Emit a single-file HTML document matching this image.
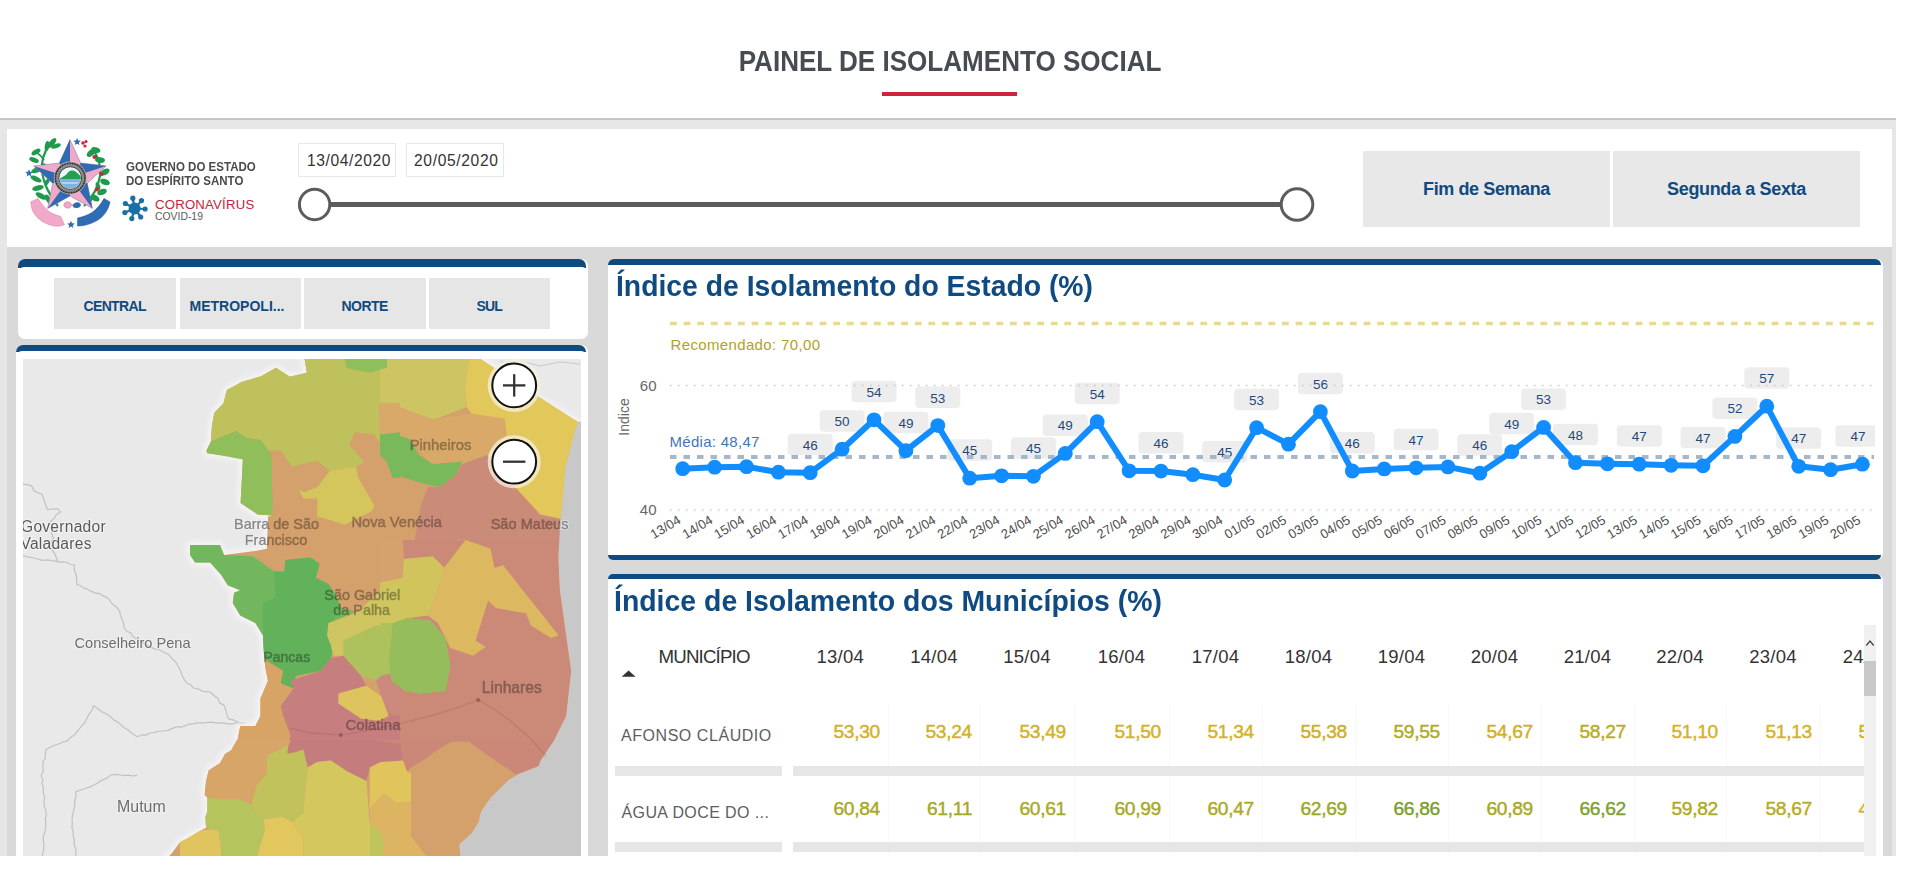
<!DOCTYPE html>
<html><head><meta charset="utf-8"><title>Painel de Isolamento Social</title>
<style>
html,body{margin:0;padding:0;background:#fff}
body{width:1914px;height:875px;position:relative;overflow:hidden;font-family:'Liberation Sans', sans-serif}
</style></head><body>
<div style="position:absolute;left:0;top:0;width:1914px;height:118px;background:#fff"></div>
<div style="position:absolute;left:700px;top:44px;width:500px;text-align:center;font:700 29px/34px 'Liberation Sans', sans-serif;color:#474c53;transform:scaleX(0.8985);transform-origin:250px 0;white-space:nowrap">PAINEL DE ISOLAMENTO SOCIAL</div>
<div style="position:absolute;left:882px;top:92px;width:135px;height:4px;background:#d2233c"></div>
<div style="position:absolute;left:0;top:118px;width:1896px;height:2px;background:#c6c6c6"></div>
<div style="position:absolute;left:0;top:120px;width:1896px;height:736px;background:#e6e6e6"></div>
<div style="position:absolute;left:7px;top:247px;width:1885px;height:609px;background:#d9d9d9"></div>
<div style="position:absolute;left:7px;top:129px;width:1885px;height:118px;background:#fff"></div>

<svg style="position:absolute;left:0;top:0" width="160" height="240" viewBox="0 0 160 240">
<path d="M58,206 C50,196 44,186 42,172 C41,162 44,152 50,144" fill="none" stroke="#1f9a4c" stroke-width="2.2"/>
<path d="M44,160 C40,154 36,152 33,151" fill="none" stroke="#1f9a4c" stroke-width="1.8"/>
<ellipse cx="52" cy="143" rx="6" ry="2.6" transform="rotate(-50 52 143)" fill="#1f9a4c"/>
<ellipse cx="56" cy="146" rx="5" ry="2.2" transform="rotate(-20 56 146)" fill="#1f9a4c"/>
<ellipse cx="47" cy="146" rx="5" ry="2.2" transform="rotate(-80 47 146)" fill="#1f9a4c"/>
<ellipse cx="36" cy="152" rx="5" ry="2.4" transform="rotate(-30 36 152)" fill="#1f9a4c"/>
<ellipse cx="34" cy="160" rx="5" ry="2.4" transform="rotate(20 34 160)" fill="#1f9a4c"/>
<ellipse cx="37" cy="170" rx="6" ry="2.6" transform="rotate(-20 37 170)" fill="#1f9a4c"/>
<ellipse cx="36" cy="179" rx="6" ry="2.6" transform="rotate(25 36 179)" fill="#1f9a4c"/>
<ellipse cx="38" cy="188" rx="6" ry="2.6" transform="rotate(-15 38 188)" fill="#1f9a4c"/>
<ellipse cx="41" cy="196" rx="6" ry="2.6" transform="rotate(30 41 196)" fill="#1f9a4c"/>
<ellipse cx="48" cy="199" rx="5" ry="2.4" transform="rotate(60 48 199)" fill="#1f9a4c"/>
<ellipse cx="45" cy="167" rx="4" ry="2" transform="rotate(70 45 167)" fill="#1f9a4c"/>
<ellipse cx="47" cy="182" rx="4" ry="2" transform="rotate(-60 47 182)" fill="#1f9a4c"/>
<path d="M84,206 C92,198 98,188 100,176 C101,166 98,156 92,148" fill="none" stroke="#1f9a4c" stroke-width="2.2"/>
<ellipse cx="91" cy="153" rx="5" ry="3" transform="rotate(-40 91 153)" fill="#1f9a4c"/>
<ellipse cx="96" cy="150" rx="4.5" ry="2.6" transform="rotate(20 96 150)" fill="#1f9a4c"/>
<ellipse cx="100" cy="160" rx="5" ry="2.8" transform="rotate(10 100 160)" fill="#1f9a4c"/>
<ellipse cx="105" cy="172" rx="5" ry="3" transform="rotate(-30 105 172)" fill="#1f9a4c"/>
<ellipse cx="105" cy="182" rx="5" ry="3" transform="rotate(20 105 182)" fill="#1f9a4c"/>
<ellipse cx="102" cy="192" rx="5" ry="3" transform="rotate(-20 102 192)" fill="#1f9a4c"/>
<ellipse cx="95" cy="198" rx="5" ry="3" transform="rotate(30 95 198)" fill="#1f9a4c"/>
<ellipse cx="98" cy="186" rx="4" ry="2" transform="rotate(70 98 186)" fill="#1f9a4c"/>
<ellipse cx="90" cy="200" rx="4" ry="2" transform="rotate(-50 90 200)" fill="#1f9a4c"/>
<g fill="#c8283a"><circle cx="83" cy="143" r="1.8"/><circle cx="86" cy="141.5" r="1.6"/><circle cx="85" cy="146" r="1.6"/><circle cx="94.5" cy="157" r="2"/><circle cx="101.5" cy="174" r="2"/><circle cx="97" cy="189.5" r="2"/></g>
<path d="M30.8,202 L38,198.4 C41,203 46,210 51.2,212.8 C55,215 59,216 60.8,216.4 L64.4,224.8 C60,226.5 56,226.5 52,225.5 C44,223.5 38,219 34.4,214 C32,210.5 31,206 30.8,202Z" fill="#f2a8c8" stroke="#d48aa8" stroke-width="0.6"/>
<path d="M110,202 L104,198.4 C101,204 97,209 92,212.5 C88,215 83,217 77.6,218 L77.6,226 C84,226 91,224 97,220.5 C103,217 108,211 110,202Z" fill="#2f6cb3" stroke="#1e5596" stroke-width="0.6"/>
<path d="M64,204 C66,201 70,201 72,205 C70,209 66,209 64,206Z M72,205 L76,203 L80,205 L76,208Z" fill="#f2a8c8" stroke="#c07898" stroke-width="0.6"/>
<path d="M73,205 C76,201 80,202 81,205 C80,208 77,209 73,207Z" fill="#2f6cb3"/>
<polygon points="70.0,139.6 80.7,163.0 106.2,165.9 87.3,183.3 92.4,208.5 70.0,195.9 47.6,208.5 52.7,183.3 33.8,165.9 59.3,163.0" fill="#f2a9c9" stroke="#777799" stroke-width="0.5"/>
<polygon points="70,177.7 70.0,139.6 59.3,163.0" fill="#3169b3"/>
<polygon points="70,177.7 106.2,165.9 80.7,163.0" fill="#3169b3"/>
<polygon points="70,177.7 92.4,208.5 87.3,183.3" fill="#3169b3"/>
<polygon points="70,177.7 47.6,208.5 70.0,195.9" fill="#3169b3"/>
<polygon points="70,177.7 33.8,165.9 52.7,183.3" fill="#3169b3"/>
<circle cx="70.2" cy="178" r="16.4" fill="#b8b8b8"/>
<circle cx="70.2" cy="178" r="15.6" fill="#4a4a4a"/>
<circle cx="70.2" cy="178" r="14.6" fill="#8c8c8c"/>
<circle cx="70.2" cy="178" r="14.6" fill="none" stroke="#2e2e2e" stroke-width="1.6" stroke-dasharray="1.2 1.4"/>
<circle cx="70.2" cy="178" r="11.6" fill="#3c3c3c"/>
<circle cx="70.2" cy="178" r="10.8" fill="#eef5fa"/>
<path d="M59.5,179 C62,177 64,176 66,175 C68,172 70,170 72,170.5 C74,170 77,172 80.5,176 L81,179 Z" fill="#24a052"/>
<path d="M59.6,179 L80.8,179 C80,184 76,188.6 70.2,188.8 C64.5,188.6 60.5,184 59.6,179Z" fill="#7fb4e0"/>
<path d="M62,183 L78,183" stroke="#e8f2fa" stroke-width="1"/>
<polygon points="29.0,169.2 30.1,171.7 32.8,172.0 30.7,173.8 31.4,176.4 29.0,175.0 26.6,176.4 27.3,173.8 25.2,172.0 27.9,171.7" fill="#2f6db5"/>
<polygon points="77.1,137.9 78.2,140.4 80.9,140.7 78.8,142.5 79.5,145.1 77.1,143.7 74.7,145.1 75.4,142.5 73.3,140.7 76.0,140.4" fill="#2f6db5"/>
<polygon points="71.0,220.8 72.1,223.3 74.8,223.6 72.7,225.4 73.4,228.0 71.0,226.6 68.6,228.0 69.3,225.4 67.2,223.6 69.9,223.3" fill="#2f6db5"/>
<circle cx="134.6" cy="208.5" r="6" fill="#1b6fa3"/>
<line x1="134.6" y1="208.5" x2="132.8" y2="198.2" stroke="#1b6fa3" stroke-width="2.2"/>
<circle cx="132.8" cy="198.2" r="2.6" fill="#1b6fa3"/>
<line x1="134.6" y1="208.5" x2="141.5" y2="200.6" stroke="#1b6fa3" stroke-width="2.2"/>
<circle cx="141.5" cy="200.6" r="2.6" fill="#1b6fa3"/>
<line x1="134.6" y1="208.5" x2="145.1" y2="209.0" stroke="#1b6fa3" stroke-width="2.2"/>
<circle cx="145.1" cy="209.0" r="2.6" fill="#1b6fa3"/>
<line x1="134.6" y1="208.5" x2="140.7" y2="217.0" stroke="#1b6fa3" stroke-width="2.2"/>
<circle cx="140.7" cy="217.0" r="2.6" fill="#1b6fa3"/>
<line x1="134.6" y1="208.5" x2="131.8" y2="218.6" stroke="#1b6fa3" stroke-width="2.2"/>
<circle cx="131.8" cy="218.6" r="2.6" fill="#1b6fa3"/>
<line x1="134.6" y1="208.5" x2="124.9" y2="212.6" stroke="#1b6fa3" stroke-width="2.2"/>
<circle cx="124.9" cy="212.6" r="2.6" fill="#1b6fa3"/>
<line x1="134.6" y1="208.5" x2="125.4" y2="203.5" stroke="#1b6fa3" stroke-width="2.2"/>
<circle cx="125.4" cy="203.5" r="2.6" fill="#1b6fa3"/>
</svg>
<div style="position:absolute;left:126px;top:160px;font:700 12.6px/14px 'Liberation Sans', sans-serif;color:#4a4a4a;white-space:nowrap;transform:scaleX(0.915);transform-origin:0 0">GOVERNO DO ESTADO<br>DO ESPÍRITO SANTO</div>
<div style="position:absolute;left:155px;top:198px;font:400 13.2px/14px 'Liberation Sans', sans-serif;color:#c7243b;letter-spacing:0.2px;white-space:nowrap">CORONAVÍRUS</div>
<div style="position:absolute;left:155px;top:211px;font:400 10.4px/11px 'Liberation Sans', sans-serif;color:#5a5a5a;white-space:nowrap">COVID-19</div>

<div style="position:absolute;left:298px;top:143px;width:96px;height:32px;border:1px solid #e8e8e8;background:#fff"></div>
<div style="position:absolute;left:406px;top:143px;width:96px;height:32px;border:1px solid #e8e8e8;background:#fff"></div>
<div style="position:absolute;left:307px;top:152px;font:400 15.6px/18px 'Liberation Sans', sans-serif;color:#333;letter-spacing:0.6px;white-space:nowrap">13/04/2020</div>
<div style="position:absolute;left:414px;top:152px;font:400 15.6px/18px 'Liberation Sans', sans-serif;color:#333;letter-spacing:0.65px;white-space:nowrap">20/05/2020</div>
<svg style="position:absolute;left:0;top:0" width="1340" height="240">
<line x1="330" y1="204.5" x2="1281" y2="204.5" stroke="#5c5c5c" stroke-width="5"/>
<circle cx="314.6" cy="204.5" r="15.2" fill="#fff" stroke="#5c5c5c" stroke-width="3"/>
<circle cx="1297" cy="204.5" r="15.8" fill="#fff" stroke="#5c5c5c" stroke-width="3"/>
</svg>

<div style="position:absolute;left:1363px;top:151px;width:247px;height:76px;background:#e8e8e8"></div>
<div style="position:absolute;left:1613px;top:151px;width:247px;height:76px;background:#e8e8e8"></div>
<div style="position:absolute;left:1363px;top:151px;width:247px;height:76px;line-height:76px;text-align:center;font-weight:700;font-size:18px;font-family:'Liberation Sans', sans-serif;color:#0f4a80;letter-spacing:-0.4px">Fim de Semana</div>
<div style="position:absolute;left:1613px;top:151px;width:247px;height:76px;line-height:76px;text-align:center;font-weight:700;font-size:18px;font-family:'Liberation Sans', sans-serif;color:#0f4a80;letter-spacing:-0.35px">Segunda a Sexta</div>

<div style="position:absolute;left:18px;top:259px;width:570px;height:80px;background:#fff;border-radius:7px"></div>
<div style="position:absolute;left:18px;top:259px;width:568px;height:9px;background:#0f4a80;border-radius:7px 7px 0 0"></div>
<div style="position:absolute;left:18px;top:266.5px;width:570px;height:10px;background:#fff;border-radius:6px 6px 0 0"></div>

<div style="position:absolute;left:54px;top:277.5px;width:122.0px;height:51.5px;background:#e6e6e6;text-align:center;font:700 14px/57px 'Liberation Sans', sans-serif;color:#0f4a80;letter-spacing:-0.63px;text-indent:-0.63px">CENTRAL</div>
<div style="position:absolute;left:179.5px;top:277.5px;width:121.0px;height:51.5px;background:#e6e6e6;text-align:center;font:700 14px/57px 'Liberation Sans', sans-serif;color:#0f4a80;letter-spacing:0.0px;text-indent:-6px">METROPOLI...</div>
<div style="position:absolute;left:303.8px;top:277.5px;width:122.2px;height:51.5px;background:#e6e6e6;text-align:center;font:700 14px/57px 'Liberation Sans', sans-serif;color:#0f4a80;letter-spacing:-0.5px;text-indent:-0.5px">NORTE</div>
<div style="position:absolute;left:429px;top:277.5px;width:121.3px;height:51.5px;background:#e6e6e6;text-align:center;font:700 14px/57px 'Liberation Sans', sans-serif;color:#0f4a80;letter-spacing:-0.8px;text-indent:-0.8px">SUL</div>
<div style="position:absolute;left:16px;top:345px;width:572px;height:520px;background:#fff;border-radius:7px 7px 0 0"></div>
<div style="position:absolute;left:16px;top:345px;width:570px;height:7px;background:#0f4a80;border-radius:7px 7px 0 0"></div>
<div style="position:absolute;left:16px;top:350.5px;width:571px;height:10px;background:#fff;border-radius:6px 6px 0 0"></div>

<svg style="position:absolute;left:0;top:0" width="600" height="875">
<defs><clipPath id="outside"><path clip-rule="evenodd" d="M23,359 L581,359 L581,856 L23,856 Z M304.6,359.0 L480.5,359.0 L540.0,400.1 L577.7,421.8 L572.0,441.3 L565.1,468.7 L562.8,496.1 L560.5,519.0 L557.3,540.0 L559.8,590.3 L566.1,635.6 L571.1,670.8 L566.1,716.1 L553.5,741.2 L542.8,753.7 L538.7,766.1 L520.9,772.9 L507.2,781.1 L490.7,797.6 L481.1,811.3 L478.4,822.3 L471.5,833.3 L459.1,844.2 L460.5,857.0 L168.0,857.0 L172.0,853.0 L180.0,842.2 L186.9,838.8 L200.6,830.5 L206.1,827.8 L205.4,816.8 L207.4,811.3 L207.4,797.6 L204.7,794.9 L206.1,781.1 L208.8,770.2 L219.8,763.3 L225.3,753.7 L234.9,748.2 L240.3,740.0 L237.8,738.6 L240.3,726.1 L255.4,726.1 L260.5,716.0 L260.5,698.4 L268.0,680.8 L265.5,668.2 L264.2,658.2 L263.0,635.5 L255.4,623.0 L240.3,615.4 L232.8,602.9 L234.1,592.8 L240.3,590.3 L227.8,585.3 L221.5,575.2 L210.2,562.6 L195.1,562.6 L190.1,555.1 L190.1,545.0 L219.0,545.0 L224.0,555.0 L255.0,551.0 L266.9,548.8 L268.0,516.8 L272.6,515.6 L257.7,514.5 L240.6,503.1 L242.9,457.3 L207.4,453.2 L206.3,450.5 L210.9,441.3 L212.0,425.3 L214.3,412.7 L223.4,403.6 L226.9,389.9 L241.7,381.9 L261.2,376.2 L276.0,367.7 L289.8,376.8 L306.9,372.7 Z"/></clipPath><clipPath id="mc"><rect x="23" y="359" width="558" height="497"/></clipPath><filter id="blur1" x="-5%" y="-5%" width="110%" height="110%"><feGaussianBlur stdDeviation="2.5"/></filter></defs>
<g clip-path="url(#mc)">
<rect x="23" y="359" width="558" height="497" fill="#e9e9e9"/>
<polyline points="22.9,484.3 27.6,484.7 31.5,485.8 34.1,490.6 38.1,492.7 42.1,494.4 44.3,500.3 45.2,503.8 47.6,509.7 52.1,509.0 57.5,508.6 60.6,511.9 56.5,514.5 54.0,518.6 50.3,521.5 51.7,525.5 52.1,529.2 51.8,533.8 53.4,538.5 50.6,543.3 51.9,549.6 54.8,553.8 56.1,557.0 57.7,562.1 62.4,561.9 67.2,562.5 70.5,564.5 74.3,564.9 74.4,570.0 76.1,574.7 76.7,579.0 76.8,584.4 80.3,585.7 84.6,588.3 87.8,589.4 90.8,591.1 95.7,593.2 99.8,593.6 102.8,595.9 105.9,597.1 109.5,599.8 112.5,604.2 115.9,606.5 119.6,610.9 120.1,614.5 122.1,619.6 123.7,623.9 123.8,627.4 126.8,631.2 130.8,632.8 132.2,635.8 135.8,638.4 139.9,640.2 142.3,642.6 146.5,645.1 151.0,647.4 154.6,648.9 159.2,649.5 164.0,652.5 168.3,654.1 170.3,656.3 172.7,659.6 175.5,661.5 177.9,666.0 180.3,670.2 181.9,674.7 184.2,679.5 186.9,683.2 190.9,684.8 193.2,688.0 197.7,688.7 202.9,691.4 206.6,691.6 210.3,692.0 214.0,695.5 218.1,698.6 219.9,703.3 224.1,705.1 225.5,709.2 226.9,715.2 229.0,719.1 232.2,719.6 236.4,721.4 241.4,722.5 245.7,723.1" fill="none" stroke="#c2c2c2" stroke-width="1.2" stroke-linejoin="round"/>
<polyline points="22.9,555.2 27.9,557.2 32.0,557.5 37.7,559.0 42.4,560.3 47.6,559.8 51.9,560.6 57.7,561.4" fill="none" stroke="#c2c2c2" stroke-width="1.2" stroke-linejoin="round"/>
<polyline points="41.3,858.0 43.0,853.2 43.5,849.8 44.0,844.3 43.1,839.8 43.6,835.4 44.8,832.3 45.7,827.2 45.8,823.4 45.3,818.8 46.3,814.7 45.6,809.8 44.2,806.0 44.0,801.7 44.7,796.7 43.3,793.3 43.4,787.6 41.9,783.2 42.9,780.0 41.1,775.7 43.3,771.1 42.9,766.5 43.2,761.2 45.4,758.0 45.4,754.2 45.9,749.8 51.0,746.8 54.3,745.3 58.6,744.0 63.0,742.0 67.1,741.2 70.4,737.4 73.7,735.4 76.3,732.5 79.3,728.9 82.3,725.1 85.0,722.5 86.4,719.3 88.9,714.3 92.0,710.1 93.5,705.7 98.2,709.1 101.8,711.6 106.4,714.0 110.8,717.0 113.9,720.1 118.0,722.1 120.9,724.8 124.2,727.7 128.4,730.3 132.8,734.0 137.5,736.8 142.3,734.8 146.0,735.1 150.8,732.8 153.9,732.5 158.1,731.3 162.5,731.0 168.1,730.3 171.3,728.9 176.5,726.8 181.3,727.2 184.4,726.0 189.1,724.1 194.5,723.7 197.3,722.9 202.3,722.8 206.1,722.7 211.4,722.2 215.4,722.9 218.8,722.8 224.2,723.1 227.5,723.9 233.2,723.9 236.3,722.6 240.5,723.6 245.7,723.1" fill="none" stroke="#c2c2c2" stroke-width="1.2" stroke-linejoin="round"/>
<polyline points="76.0,856.9 75.7,854.0 75.9,848.5 74.2,845.3 74.4,840.6 73.0,835.1 73.5,831.4 71.9,828.0 72.3,823.4 72.0,819.2 72.5,814.9 73.9,809.6 74.7,806.3 74.8,800.5 75.9,796.4 75.7,791.9 80.0,790.2 84.8,788.7 89.9,786.9 93.8,785.0 97.8,783.0 102.0,780.1 107.2,778.1 110.6,775.1 116.3,774.4 120.4,775.0 124.2,775.7 128.3,775.2 133.2,776.0 137.2,775.1" fill="none" stroke="#c2c2c2" stroke-width="1.2" stroke-linejoin="round"/>
<polyline points="500,362 520,361 540,366 560,362 580,364" fill="none" stroke="#c9c9c9" stroke-width="1"/>
<polygon points="304.6,359.0 480.5,359.0 540.0,400.1 577.7,421.8 572.0,441.3 565.1,468.7 562.8,496.1 560.5,519.0 557.3,540.0 559.8,590.3 566.1,635.6 571.1,670.8 566.1,716.1 553.5,741.2 542.8,753.7 538.7,766.1 520.9,772.9 507.2,781.1 490.7,797.6 481.1,811.3 478.4,822.3 471.5,833.3 459.1,844.2 460.5,857.0 168.0,857.0 172.0,853.0 180.0,842.2 186.9,838.8 200.6,830.5 206.1,827.8 205.4,816.8 207.4,811.3 207.4,797.6 204.7,794.9 206.1,781.1 208.8,770.2 219.8,763.3 225.3,753.7 234.9,748.2 240.3,740.0 237.8,738.6 240.3,726.1 255.4,726.1 260.5,716.0 260.5,698.4 268.0,680.8 265.5,668.2 264.2,658.2 263.0,635.5 255.4,623.0 240.3,615.4 232.8,602.9 234.1,592.8 240.3,590.3 227.8,585.3 221.5,575.2 210.2,562.6 195.1,562.6 190.1,555.1 190.1,545.0 219.0,545.0 224.0,555.0 255.0,551.0 266.9,548.8 268.0,516.8 272.6,515.6 257.7,514.5 240.6,503.1 242.9,457.3 207.4,453.2 206.3,450.5 210.9,441.3 212.0,425.3 214.3,412.7 223.4,403.6 226.9,389.9 241.7,381.9 261.2,376.2 276.0,367.7 289.8,376.8 306.9,372.7" fill="none" stroke="#f4f4f4" stroke-width="7" filter="url(#blur1)"/>
<polygon points="577.7,421.8 572.0,441.3 565.1,468.7 562.8,496.1 560.5,519.0 557.3,540.0 559.8,590.3 566.1,635.6 571.1,670.8 566.1,716.1 553.5,741.2 542.8,753.7 538.7,766.1 520.9,772.9 507.2,781.1 490.7,797.6 481.1,811.3 478.4,822.3 471.5,833.3 459.1,844.2 460.5,857.0 582.0,857.0 582.0,421.8" fill="#c8c8c8"/>
<polygon points="304.6,359.0 480.5,359.0 540.0,400.1 577.7,421.8 572.0,441.3 565.1,468.7 562.8,496.1 560.5,519.0 557.3,540.0 559.8,590.3 566.1,635.6 571.1,670.8 566.1,716.1 553.5,741.2 542.8,753.7 538.7,766.1 520.9,772.9 507.2,781.1 490.7,797.6 481.1,811.3 478.4,822.3 471.5,833.3 459.1,844.2 460.5,857.0 168.0,857.0 172.0,853.0 180.0,842.2 186.9,838.8 200.6,830.5 206.1,827.8 205.4,816.8 207.4,811.3 207.4,797.6 204.7,794.9 206.1,781.1 208.8,770.2 219.8,763.3 225.3,753.7 234.9,748.2 240.3,740.0 237.8,738.6 240.3,726.1 255.4,726.1 260.5,716.0 260.5,698.4 268.0,680.8 265.5,668.2 264.2,658.2 263.0,635.5 255.4,623.0 240.3,615.4 232.8,602.9 234.1,592.8 240.3,590.3 227.8,585.3 221.5,575.2 210.2,562.6 195.1,562.6 190.1,555.1 190.1,545.0 219.0,545.0 224.0,555.0 255.0,551.0 266.9,548.8 268.0,516.8 272.6,515.6 257.7,514.5 240.6,503.1 242.9,457.3 207.4,453.2 206.3,450.5 210.9,441.3 212.0,425.3 214.3,412.7 223.4,403.6 226.9,389.9 241.7,381.9 261.2,376.2 276.0,367.7 289.8,376.8 306.9,372.7" fill="#d4a06c"/>
<polygon points="304.6,359.0 306.9,372.7 289.8,376.8 276.0,367.7 261.2,376.2 241.7,381.9 226.9,389.9 223.4,403.6 214.3,412.7 212.0,425.3 210.9,441.3 236.0,431.0 246.3,437.9 261.2,440.2 268.0,450.5 280.6,450.5 292.1,466.5 317.2,460.8 329.8,471.1 356.1,466.5 364.1,461.9 349.2,444.8 354.9,432.2 374.4,434.5 380.1,443.6 378.9,404.7 400.0,402.4 400.0,359.0" fill="#bfc15c"/>
<polygon points="206.3,451.6 210.9,441.8 236.0,431.0 246.3,437.9 261.2,440.2 268.0,450.5 271.5,455.0 272.6,515.6 257.7,514.5 240.6,503.1 242.9,459.6 225.7,456.2 207.4,453.2" fill="#8fbe5b"/>
<polygon points="298.9,490.5 304.6,492.1 317.2,487.1 329.8,471.1 356.1,466.5 358.4,477.9 374.4,505.4 372.1,511.1 344.6,524.8 326.4,519.1 317.2,516.8 317.2,498.5 303.5,498.5" fill="#d4c65d"/>
<polygon points="344.6,359.0 346.9,368.1 369.8,372.7 385.8,368.1 392.7,359.0" fill="#8fbf5a"/>
<polygon points="386.9,359.0 469.1,359.0 464.6,386.4 466.8,407.0 437.1,418.4 425.7,420.7 405.1,409.3 389.1,402.4 380.0,402.4 380.0,359.0" fill="#cdc463"/>
<polygon points="380.0,359.0 386.9,359.0 386.9,368.1 380.0,369.3" fill="#8fbf5a"/>
<polygon points="380.0,402.4 405.1,409.3 432.6,418.9 471.4,413.8 504.5,418.4 506.8,434.4 487.4,455.0 462.3,464.1 437.1,466.4 425.7,459.5 414.3,441.3 393.7,434.4 380.0,436.7" fill="#d9a96a"/>
<polygon points="378.9,404.7 400.0,402.4 400.0,434.5 381.2,434.5 380.1,443.6" fill="#d9a96a"/>
<polygon points="480.5,359.0 577.7,421.8 572.0,441.3 565.1,468.7 562.8,496.1 560.5,519.0 540.0,514.4 514.8,487.0 487.4,455.0 506.8,434.4 504.5,418.4 471.4,413.8 466.8,407.0 464.6,386.4 469.1,359.0" fill="#e2c75b"/>
<polygon points="487.4,455.0 514.8,487.0 540.0,514.4 560.5,519.0 558.2,559.0 425.7,559.0 414.3,541.8 421.1,505.3 428.0,487.0 439.4,487.0 455.4,475.5 462.3,464.1" fill="#ca8c78"/>
<polygon points="380.0,434.4 393.7,434.0 409.7,439.0 418.8,455.0 432.6,464.1 462.3,461.8 455.4,475.5 439.4,487.0 418.8,482.4 398.3,475.5 389.1,464.1 380.0,455.0" fill="#79b85b"/>
<polygon points="381.2,434.5 400.0,432.2 400.0,477.9 392.7,477.9 385.8,459.6" fill="#79b85b"/>
<polygon points="457.7,539.5 489.7,541.8 494.3,559.0 453.1,559.0" fill="#dcbf60"/>
<polygon points="402.6,540.0 557.3,540.0 559.8,590.3 566.1,635.6 571.1,670.8 566.1,716.1 553.5,741.2 541.0,760.1 380.0,760.1 380.0,680.8 392.6,680.8 405.2,690.9 420.2,693.4 445.4,690.9 450.4,665.8 445.4,638.1 430.3,620.5 407.7,618.0 427.8,615.5 437.8,590.3 444.1,567.7 432.8,556.3 403.9,558.9" fill="#cb8a78"/>
<polygon points="380.0,540.0 402.6,540.0 403.9,558.9 402.6,577.7 380.0,582.8" fill="#d5a26e"/>
<polygon points="444.1,567.7 465.5,540.0 490.7,548.8 494.4,567.7 503.2,565.2 520.8,587.8 541.0,612.9 558.6,635.6 551.0,638.1 530.9,625.5 525.9,612.9 515.8,611.7 495.7,607.9 488.1,600.4 475.6,640.6 485.6,646.9 473.1,655.7 450.4,648.1 437.8,623.0 427.8,615.5 437.8,590.3" fill="#dcb861"/>
<polygon points="403.9,558.9 432.8,556.3 444.1,567.7 437.8,590.3 427.8,615.5 407.7,618.0 395.1,623.0 380.0,620.5 380.0,582.8 402.6,577.7" fill="#d2c45d"/>
<polygon points="425.3,760.1 445.4,741.2 475.6,743.7 495.7,760.1" fill="#d6a36a"/>
<polygon points="190.1,545.0 220.2,545.0 224.0,555.1 252.9,556.3 274.3,571.4 284.4,571.4 285.6,560.1 310.8,557.6 319.6,563.9 315.8,577.7 328.4,584.0 335.9,595.3 340.9,607.9 356.0,611.7 346.0,615.4 330.9,623.0 327.1,635.5 333.4,645.6 330.9,658.2 320.8,670.8 295.7,675.8 293.2,688.4 280.6,683.3 283.1,670.8 270.5,663.2 264.2,658.2 263.0,635.5 255.4,623.0 240.3,615.4 232.8,602.9 234.1,592.8 240.3,590.3 227.8,585.3 221.5,575.2 210.2,562.6 195.1,562.6 190.1,555.1" fill="#72b75e"/>
<polygon points="274.3,571.4 284.4,571.4 285.6,560.1 310.8,557.6 319.6,563.9 315.8,577.7 328.4,584.0 335.9,595.3 340.9,607.9 330.9,623.0 327.1,635.5 333.4,645.6 330.9,658.2 320.8,670.8 295.7,675.8 293.2,688.4 280.6,683.3 283.1,670.8 270.5,663.2 264.2,658.2 263.0,635.5 263.0,602.9 275.5,597.8" fill="#62b15b"/>
<polygon points="328.4,623.0 356.0,612.9 381.2,590.3 400.0,582.7 400.0,630.5 376.1,625.5 346.0,640.6 343.4,655.7 333.4,655.7 330.9,645.6 327.1,635.5" fill="#cfc661"/>
<polygon points="343.4,640.6 376.1,625.5 400.0,630.5 400.0,670.8 388.7,668.2 376.1,680.8 361.0,675.8 346.0,665.7 343.4,650.6" fill="#adc15d"/>
<polygon points="290.6,680.8 320.8,670.8 330.9,658.2 343.4,655.7 361.0,675.8 366.1,685.8 340.9,693.4 338.4,703.4 353.5,713.5 361.0,718.5 376.1,716.0 386.2,713.5 400.0,716.0 400.0,760.0 298.2,760.0 285.6,748.7 290.6,736.1 283.1,716.0 280.6,706.0 288.1,695.9 293.2,688.4" fill="#c67f7e"/>
<polygon points="376.1,680.8 388.7,668.2 400.0,670.8 400.0,716.0 391.2,713.5 381.2,695.9" fill="#cb8a7d"/>
<polygon points="338.4,693.4 366.1,685.8 381.2,695.9 388.7,716.0 378.6,721.0 361.0,718.5 353.5,713.5 338.4,703.4" fill="#ddc45f"/>
<polygon points="264.2,658.2 270.5,663.2 283.1,670.8 280.6,683.3 293.2,688.4 288.1,695.9 280.6,706.0 283.1,716.0 290.6,736.1 285.6,748.7 278.1,760.0 225.3,760.0 237.8,738.6 240.3,726.1 255.4,726.1 260.5,716.0 260.5,698.4 268.0,680.8 265.5,668.2" fill="#d7a465"/>
<polygon points="380.0,623.0 395.1,623.0 390.1,658.2 392.6,673.3 380.0,675.8" fill="#adc15d"/>
<polygon points="392.6,623.0 407.7,618.0 430.3,620.5 445.4,638.1 450.4,665.8 445.4,690.9 420.2,693.4 405.2,690.9 391.3,680.8 388.8,658.2 391.3,640.6" fill="#96bd5c"/>
<polygon points="240.3,740.0 291.1,740.0 288.4,746.9 267.8,755.1 266.4,774.3 256.8,785.3 251.3,804.5 239.0,799.0 219.8,799.0 207.4,797.6 204.7,794.9 206.1,781.1 208.8,770.2 219.8,763.3 225.3,753.7 234.9,748.2" fill="#d6a567"/>
<polygon points="291.1,740.0 400.0,740.0 400.0,760.6 392.6,763.3 370.6,763.3 366.5,781.1 352.8,774.3 347.3,771.5 330.9,760.6 317.2,761.9 307.6,767.4 303.4,749.6 295.2,752.3 288.4,756.5 287.0,749.6" fill="#c47c7c"/>
<polygon points="267.8,755.1 288.4,745.5 287.0,753.7 295.2,752.3 303.4,749.6 307.6,767.4 304.8,794.9 303.4,812.7 292.5,822.3 281.5,816.8 263.7,819.6 254.1,811.3 251.3,804.5 256.8,785.3 266.4,774.3" fill="#c2c25d"/>
<polygon points="207.4,797.6 219.8,799.0 239.0,799.0 251.3,804.5 254.1,811.3 263.7,819.6 265.0,830.5 259.6,847.0 256.8,858.0 221.1,858.0 221.1,849.7 218.4,830.5 211.5,829.2 206.1,827.8 205.4,816.8 207.4,811.3" fill="#b6c45e"/>
<polygon points="180.0,842.2 186.9,838.8 200.6,830.5 211.5,829.2 218.4,830.5 221.1,849.7 221.1,858.0 180.0,858.0" fill="#e0c55e"/>
<polygon points="263.7,819.6 281.5,816.8 292.5,822.3 303.4,838.8 303.4,858.0 256.8,858.0 259.6,847.0 265.0,830.5" fill="#e2c75e"/>
<polygon points="307.6,767.4 317.2,761.9 330.9,760.6 347.3,771.5 352.8,774.3 366.5,781.1 369.3,819.6 374.8,858.0 303.4,858.0 303.4,838.8 292.5,822.3 303.4,812.7 304.8,794.9" fill="#d4c75e"/>
<polygon points="370.6,763.3 392.6,763.3 400.0,760.6 400.0,801.7 389.8,804.5 383.0,794.9 373.4,803.1 369.3,808.6" fill="#e0c55b"/>
<polygon points="369.3,808.6 373.4,803.1 383.0,794.9 389.8,804.5 400.0,801.7 400.0,858.0 374.8,858.0" fill="#dcae63"/>
<polygon points="370.0,740.0 552.4,740.0 542.8,753.7 538.7,766.1 520.9,772.9 515.4,774.3 485.2,753.7 468.8,741.4 452.3,741.4 435.8,751.0 424.9,759.2 411.1,767.4 407.0,771.5 402.9,760.6 400.2,744.1" fill="#cb8878"/>
<polygon points="370.0,740.0 400.2,744.1 402.9,760.6 381.0,761.9 370.0,767.4" fill="#c47c7c"/>
<polygon points="411.1,767.4 424.9,759.2 435.8,751.0 452.3,741.4 468.8,741.4 485.2,753.7 515.4,774.3 507.2,781.1 490.7,797.6 481.1,811.3 478.4,822.3 471.5,833.3 459.2,844.2 460.5,858.0 427.6,858.0 411.1,836.0" fill="#d4a06c"/>
<polygon points="370.0,767.4 381.0,761.9 402.9,760.6 407.0,771.5 411.1,772.9 411.1,801.7 397.4,803.1 383.7,793.5 370.0,808.6" fill="#dfc55b"/>
<polygon points="370.0,808.6 383.7,793.5 397.4,803.1 411.1,801.7 411.1,836.0 427.6,858.0 383.7,858.0 383.7,836.0 370.0,822.3" fill="#dcb462"/>
<polygon points="370.0,822.3 383.7,836.0 383.7,858.0 370.0,858.0" fill="#c0c45d"/>
<polyline points="290.7,728.3 310,733 341.8,735.1 370,730 404.3,722.6 430,716 455.5,708.4 478.2,699.9 495,710 512.3,722.6 530,738 546.4,756.7" fill="none" stroke="rgba(140,70,60,0.2)" stroke-width="1.4" stroke-linejoin="round"/>
<circle cx="340.7" cy="735.1" r="2" fill="rgba(110,50,50,0.45)"/><circle cx="478.2" cy="699.9" r="2" fill="rgba(110,50,50,0.45)"/>
<path d="M23.0,359.0 L581.0,359.0 L581.0,856.0 L23.0,856.0 Z M304.6,359.0 L480.5,359.0 L540.0,400.1 L577.7,421.8 L572.0,441.3 L565.1,468.7 L562.8,496.1 L560.5,519.0 L557.3,540.0 L559.8,590.3 L566.1,635.6 L571.1,670.8 L566.1,716.1 L553.5,741.2 L542.8,753.7 L538.7,766.1 L520.9,772.9 L507.2,781.1 L490.7,797.6 L481.1,811.3 L478.4,822.3 L471.5,833.3 L459.1,844.2 L460.5,857.0 L168.0,857.0 L172.0,853.0 L180.0,842.2 L186.9,838.8 L200.6,830.5 L206.1,827.8 L205.4,816.8 L207.4,811.3 L207.4,797.6 L204.7,794.9 L206.1,781.1 L208.8,770.2 L219.8,763.3 L225.3,753.7 L234.9,748.2 L240.3,740.0 L237.8,738.6 L240.3,726.1 L255.4,726.1 L260.5,716.0 L260.5,698.4 L268.0,680.8 L265.5,668.2 L264.2,658.2 L263.0,635.5 L255.4,623.0 L240.3,615.4 L232.8,602.9 L234.1,592.8 L240.3,590.3 L227.8,585.3 L221.5,575.2 L210.2,562.6 L195.1,562.6 L190.1,555.1 L190.1,545.0 L219.0,545.0 L224.0,555.0 L255.0,551.0 L266.9,548.8 L268.0,516.8 L272.6,515.6 L257.7,514.5 L240.6,503.1 L242.9,457.3 L207.4,453.2 L206.3,450.5 L210.9,441.3 L212.0,425.3 L214.3,412.7 L223.4,403.6 L226.9,389.9 L241.7,381.9 L261.2,376.2 L276.0,367.7 L289.8,376.8 L306.9,372.7 Z" fill="#e9e9e9" fill-rule="evenodd" opacity="0"/>
<text x="21" y="531.7" font-family="Liberation Sans" font-size="15.6" fill="#5a5a5a" letter-spacing="0.25" stroke="rgba(255,255,255,0.5)" stroke-width="2.2" paint-order="stroke">Governador</text>
<text x="20.4" y="549.4" font-family="Liberation Sans" font-size="15.6" fill="#5a5a5a" letter-spacing="0.25" stroke="rgba(255,255,255,0.5)" stroke-width="2.2" paint-order="stroke">Valadares</text>
<text x="132.5" y="648.4" font-family="Liberation Sans" font-size="14.6" fill="#6e6e6e" text-anchor="middle" stroke="rgba(255,255,255,0.35)" stroke-width="2.2" paint-order="stroke">Conselheiro Pena</text>
<text x="141.4" y="812.3" font-family="Liberation Sans" font-size="15.9" fill="#6e6e6e" text-anchor="middle" stroke="rgba(255,255,255,0.35)" stroke-width="2.2" paint-order="stroke">Mutum</text>
<text x="440.5" y="450.4" font-family="Liberation Sans" font-size="14.8" fill="#aaaaaa" stroke="#aaaaaa" stroke-width="0.45" text-anchor="middle" style="mix-blend-mode:multiply">Pinheiros</text>
<text x="440.5" y="450.4" font-family="Liberation Sans" font-size="14.8" fill="#858585" text-anchor="middle" clip-path="url(#outside)" stroke="rgba(255,255,255,0.4)" stroke-width="2" paint-order="stroke">Pinheiros</text>
<text x="276.5" y="529.4" font-family="Liberation Sans" font-size="14.4" fill="#aaaaaa" stroke="#aaaaaa" stroke-width="0.45" text-anchor="middle" style="mix-blend-mode:multiply">Barra de São</text>
<text x="276.5" y="529.4" font-family="Liberation Sans" font-size="14.4" fill="#858585" text-anchor="middle" clip-path="url(#outside)" stroke="rgba(255,255,255,0.4)" stroke-width="2" paint-order="stroke">Barra de São</text>
<text x="276" y="545.4" font-family="Liberation Sans" font-size="14.4" fill="#aaaaaa" stroke="#aaaaaa" stroke-width="0.45" text-anchor="middle" style="mix-blend-mode:multiply">Francisco</text>
<text x="276" y="545.4" font-family="Liberation Sans" font-size="14.4" fill="#858585" text-anchor="middle" clip-path="url(#outside)" stroke="rgba(255,255,255,0.4)" stroke-width="2" paint-order="stroke">Francisco</text>
<text x="396.7" y="527" font-family="Liberation Sans" font-size="14.7" fill="#aaaaaa" stroke="#aaaaaa" stroke-width="0.45" text-anchor="middle" style="mix-blend-mode:multiply">Nova Venécia</text>
<text x="396.7" y="527" font-family="Liberation Sans" font-size="14.7" fill="#858585" text-anchor="middle" clip-path="url(#outside)" stroke="rgba(255,255,255,0.4)" stroke-width="2" paint-order="stroke">Nova Venécia</text>
<text x="529.6" y="529.2" font-family="Liberation Sans" font-size="14.6" fill="#aaaaaa" stroke="#aaaaaa" stroke-width="0.45" text-anchor="middle" style="mix-blend-mode:multiply">São Mateus</text>
<text x="529.6" y="529.2" font-family="Liberation Sans" font-size="14.6" fill="#858585" text-anchor="middle" clip-path="url(#outside)" stroke="rgba(255,255,255,0.4)" stroke-width="2" paint-order="stroke">São Mateus</text>
<text x="362.3" y="600.3" font-family="Liberation Sans" font-size="14.4" fill="#aaaaaa" stroke="#aaaaaa" stroke-width="0.45" text-anchor="middle" style="mix-blend-mode:multiply">São Gabriel</text>
<text x="362.3" y="600.3" font-family="Liberation Sans" font-size="14.4" fill="#858585" text-anchor="middle" clip-path="url(#outside)" stroke="rgba(255,255,255,0.4)" stroke-width="2" paint-order="stroke">São Gabriel</text>
<text x="361.7" y="615.4" font-family="Liberation Sans" font-size="14.4" fill="#aaaaaa" stroke="#aaaaaa" stroke-width="0.45" text-anchor="middle" style="mix-blend-mode:multiply">da Palha</text>
<text x="361.7" y="615.4" font-family="Liberation Sans" font-size="14.4" fill="#858585" text-anchor="middle" clip-path="url(#outside)" stroke="rgba(255,255,255,0.4)" stroke-width="2" paint-order="stroke">da Palha</text>
<text x="286.8" y="662" font-family="Liberation Sans" font-size="14" fill="#aaaaaa" stroke="#aaaaaa" stroke-width="0.45" text-anchor="middle" style="mix-blend-mode:multiply">Pancas</text>
<text x="286.8" y="662" font-family="Liberation Sans" font-size="14" fill="#858585" text-anchor="middle" clip-path="url(#outside)" stroke="rgba(255,255,255,0.4)" stroke-width="2" paint-order="stroke">Pancas</text>
<text x="373" y="729.8" font-family="Liberation Sans" font-size="15" fill="#aaaaaa" stroke="#aaaaaa" stroke-width="0.45" text-anchor="middle" style="mix-blend-mode:multiply">Colatina</text>
<text x="373" y="729.8" font-family="Liberation Sans" font-size="15" fill="#858585" text-anchor="middle" clip-path="url(#outside)" stroke="rgba(255,255,255,0.4)" stroke-width="2" paint-order="stroke">Colatina</text>
<text x="511.8" y="692.8" font-family="Liberation Sans" font-size="15.7" fill="#aaaaaa" stroke="#aaaaaa" stroke-width="0.45" text-anchor="middle" style="mix-blend-mode:multiply">Linhares</text>
<text x="511.8" y="692.8" font-family="Liberation Sans" font-size="15.7" fill="#858585" text-anchor="middle" clip-path="url(#outside)" stroke="rgba(255,255,255,0.4)" stroke-width="2" paint-order="stroke">Linhares</text>
<circle cx="514.2" cy="385.4" r="26.5" fill="#f6f1de" opacity="0.75"/>
<circle cx="514.2" cy="385.4" r="21.9" fill="#fff" stroke="#111" stroke-width="2.0"/>
<line x1="503" y1="385.4" x2="525.4" y2="385.4" stroke="#333" stroke-width="2.3"/>
<line x1="514.2" y1="374.2" x2="514.2" y2="396.59999999999997" stroke="#333" stroke-width="2.3"/>
<circle cx="514.2" cy="461.7" r="26.5" fill="#f6f1de" opacity="0.75"/>
<circle cx="514.2" cy="461.7" r="21.9" fill="#fff" stroke="#111" stroke-width="2.0"/>
<line x1="503" y1="461.7" x2="525.4" y2="461.7" stroke="#333" stroke-width="2.3"/>
</g></svg>
<div style="position:absolute;left:608px;top:258.5px;width:1275px;height:301.5px;background:#fff;border-radius:7px"></div>
<div style="position:absolute;left:608px;top:258.5px;width:1273px;height:6.5px;background:#0f4a80;border-radius:7px 7px 0 0"></div>
<div style="position:absolute;left:608px;top:555px;width:1273px;height:5px;background:#0f4a80;border-radius:0 0 7px 7px"></div>
<div style="position:absolute;left:608px;top:264.5px;width:1275px;height:8px;background:#fff;border-radius:6px 6px 0 0"></div>
<div style="position:absolute;left:608px;top:547px;width:1275px;height:8px;background:#fff;border-radius:0 0 6px 6px"></div>
<div style="position:absolute;left:616px;top:267.5px;font:700 30.2px/36px 'Liberation Sans', sans-serif;color:#0f4a80;white-space:nowrap;transform:scaleX(0.9385);transform-origin:0 0">Índice de Isolamento do Estado (%)</div>

<svg style="position:absolute;left:0;top:0" width="1914" height="600">
<defs><clipPath id="pc"><rect x="660" y="300" width="1215" height="250"/></clipPath></defs>
<text x="656.5" y="390.8" font-family="Liberation Sans" font-size="15" fill="#666" text-anchor="end">60</text>
<text x="656.5" y="515" font-family="Liberation Sans" font-size="15" fill="#666" text-anchor="end">40</text>
<text x="0" y="0" transform="translate(628.5,417) rotate(-90)" font-family="Liberation Sans" font-size="14" fill="#666" text-anchor="middle">Indice</text>
<text x="670.5" y="350.2" font-family="Liberation Sans" font-size="15" fill="#b39f2c" letter-spacing="0.36">Recomendado: 70,00</text>
<text x="669.6" y="446.8" font-family="Liberation Sans" font-size="15" fill="#3f78b4" letter-spacing="0.28">Média: 48,47</text>
<g clip-path="url(#pc)">
<rect x="787.7" y="433.7" width="45" height="21.5" rx="4" fill="#ededed"/>
<rect x="819.6" y="410.2" width="45" height="21.5" rx="4" fill="#ededed"/>
<rect x="851.5" y="380.8" width="45" height="21.5" rx="4" fill="#ededed"/>
<rect x="883.4" y="411.7" width="45" height="21.5" rx="4" fill="#ededed"/>
<rect x="915.3" y="386.6" width="45" height="21.5" rx="4" fill="#ededed"/>
<rect x="947.2" y="439.2" width="45" height="21.5" rx="4" fill="#ededed"/>
<rect x="1010.9" y="437.3" width="45" height="21.5" rx="4" fill="#ededed"/>
<rect x="1042.8" y="414.4" width="45" height="21.5" rx="4" fill="#ededed"/>
<rect x="1074.7" y="382.7" width="45" height="21.5" rx="4" fill="#ededed"/>
<rect x="1138.5" y="432.1" width="45" height="21.5" rx="4" fill="#ededed"/>
<rect x="1202.2" y="441.0" width="45" height="21.5" rx="4" fill="#ededed"/>
<rect x="1234.1" y="388.7" width="45" height="21.5" rx="4" fill="#ededed"/>
<rect x="1297.9" y="372.7" width="45" height="21.5" rx="4" fill="#ededed"/>
<rect x="1329.8" y="432.0" width="45" height="21.5" rx="4" fill="#ededed"/>
<rect x="1393.6" y="428.8" width="45" height="21.5" rx="4" fill="#ededed"/>
<rect x="1457.3" y="434.2" width="45" height="21.5" rx="4" fill="#ededed"/>
<rect x="1489.2" y="412.7" width="45" height="21.5" rx="4" fill="#ededed"/>
<rect x="1521.1" y="388.4" width="45" height="21.5" rx="4" fill="#ededed"/>
<rect x="1553.0" y="423.7" width="45" height="21.5" rx="4" fill="#ededed"/>
<rect x="1616.8" y="425.2" width="45" height="21.5" rx="4" fill="#ededed"/>
<rect x="1680.5" y="426.8" width="45" height="21.5" rx="4" fill="#ededed"/>
<rect x="1712.4" y="397.4" width="45" height="21.5" rx="4" fill="#ededed"/>
<rect x="1744.3" y="367.2" width="45" height="21.5" rx="4" fill="#ededed"/>
<rect x="1776.2" y="427.3" width="45" height="21.5" rx="4" fill="#ededed"/>
<rect x="1835.4" y="425.2" width="45" height="21.5" rx="4" fill="#ededed"/>
<text x="810.2" y="449.7" font-family="Liberation Sans" font-size="13.5" fill="#1f4a78" text-anchor="middle">46</text>
<text x="842.1" y="426.2" font-family="Liberation Sans" font-size="13.5" fill="#1f4a78" text-anchor="middle">50</text>
<text x="874.0" y="396.8" font-family="Liberation Sans" font-size="13.5" fill="#1f4a78" text-anchor="middle">54</text>
<text x="905.9" y="427.7" font-family="Liberation Sans" font-size="13.5" fill="#1f4a78" text-anchor="middle">49</text>
<text x="937.8" y="402.6" font-family="Liberation Sans" font-size="13.5" fill="#1f4a78" text-anchor="middle">53</text>
<text x="969.7" y="455.2" font-family="Liberation Sans" font-size="13.5" fill="#1f4a78" text-anchor="middle">45</text>
<text x="1033.4" y="453.3" font-family="Liberation Sans" font-size="13.5" fill="#1f4a78" text-anchor="middle">45</text>
<text x="1065.3" y="430.4" font-family="Liberation Sans" font-size="13.5" fill="#1f4a78" text-anchor="middle">49</text>
<text x="1097.2" y="398.7" font-family="Liberation Sans" font-size="13.5" fill="#1f4a78" text-anchor="middle">54</text>
<text x="1161.0" y="448.1" font-family="Liberation Sans" font-size="13.5" fill="#1f4a78" text-anchor="middle">46</text>
<text x="1224.7" y="457.0" font-family="Liberation Sans" font-size="13.5" fill="#1f4a78" text-anchor="middle">45</text>
<text x="1256.6" y="404.7" font-family="Liberation Sans" font-size="13.5" fill="#1f4a78" text-anchor="middle">53</text>
<text x="1320.4" y="388.7" font-family="Liberation Sans" font-size="13.5" fill="#1f4a78" text-anchor="middle">56</text>
<text x="1352.3" y="448.0" font-family="Liberation Sans" font-size="13.5" fill="#1f4a78" text-anchor="middle">46</text>
<text x="1416.1" y="444.8" font-family="Liberation Sans" font-size="13.5" fill="#1f4a78" text-anchor="middle">47</text>
<text x="1479.8" y="450.2" font-family="Liberation Sans" font-size="13.5" fill="#1f4a78" text-anchor="middle">46</text>
<text x="1511.7" y="428.7" font-family="Liberation Sans" font-size="13.5" fill="#1f4a78" text-anchor="middle">49</text>
<text x="1543.6" y="404.4" font-family="Liberation Sans" font-size="13.5" fill="#1f4a78" text-anchor="middle">53</text>
<text x="1575.5" y="439.7" font-family="Liberation Sans" font-size="13.5" fill="#1f4a78" text-anchor="middle">48</text>
<text x="1639.2" y="441.2" font-family="Liberation Sans" font-size="13.5" fill="#1f4a78" text-anchor="middle">47</text>
<text x="1703.0" y="442.8" font-family="Liberation Sans" font-size="13.5" fill="#1f4a78" text-anchor="middle">47</text>
<text x="1734.9" y="413.4" font-family="Liberation Sans" font-size="13.5" fill="#1f4a78" text-anchor="middle">52</text>
<text x="1766.8" y="383.2" font-family="Liberation Sans" font-size="13.5" fill="#1f4a78" text-anchor="middle">57</text>
<text x="1798.7" y="443.3" font-family="Liberation Sans" font-size="13.5" fill="#1f4a78" text-anchor="middle">47</text>
<text x="1857.9" y="441.2" font-family="Liberation Sans" font-size="13.5" fill="#1f4a78" text-anchor="middle">47</text>
</g>
<line x1="670" y1="385.5" x2="1874" y2="385.5" stroke="#c4c4c4" stroke-width="1.4" stroke-dasharray="1.4 6.6"/>
<line x1="670" y1="510" x2="1874" y2="510" stroke="#c4c4c4" stroke-width="1.4" stroke-dasharray="1.4 6.6"/>
<line x1="670" y1="323.5" x2="1874" y2="323.5" stroke="#ead98f" stroke-width="3.5" stroke-dasharray="6.8 6.8"/>
<line x1="670" y1="457" x2="1874" y2="457" stroke="#a6b7ca" stroke-width="4" stroke-dasharray="6.5 7"/>
<polyline points="682.7,468.7 714.6,467.2 746.5,466.7 778.4,472.2 810.2,472.7 842.1,449.2 874.0,419.8 905.9,450.7 937.8,425.6 969.7,478.2 1001.6,475.8 1033.4,476.3 1065.3,453.4 1097.2,421.7 1129.1,470.8 1161.0,471.1 1192.9,474.7 1224.7,480.0 1256.6,427.7 1288.5,444.2 1320.4,411.7 1352.3,471.0 1384.2,468.9 1416.1,467.8 1447.9,466.9 1479.8,473.2 1511.7,451.7 1543.6,427.4 1575.5,462.7 1607.4,463.8 1639.2,464.2 1671.1,465.3 1703.0,465.8 1734.9,436.4 1766.8,406.2 1798.7,466.3 1830.6,469.7 1862.4,464.2" fill="none" stroke="#118dff" stroke-width="6" stroke-linejoin="round"/>
<circle cx="682.7" cy="468.7" r="7.4" fill="#118dff"/>
<circle cx="714.6" cy="467.2" r="7.4" fill="#118dff"/>
<circle cx="746.5" cy="466.7" r="7.4" fill="#118dff"/>
<circle cx="778.4" cy="472.2" r="7.4" fill="#118dff"/>
<circle cx="810.2" cy="472.7" r="7.4" fill="#118dff"/>
<circle cx="842.1" cy="449.2" r="7.4" fill="#118dff"/>
<circle cx="874.0" cy="419.8" r="7.4" fill="#118dff"/>
<circle cx="905.9" cy="450.7" r="7.4" fill="#118dff"/>
<circle cx="937.8" cy="425.6" r="7.4" fill="#118dff"/>
<circle cx="969.7" cy="478.2" r="7.4" fill="#118dff"/>
<circle cx="1001.6" cy="475.8" r="7.4" fill="#118dff"/>
<circle cx="1033.4" cy="476.3" r="7.4" fill="#118dff"/>
<circle cx="1065.3" cy="453.4" r="7.4" fill="#118dff"/>
<circle cx="1097.2" cy="421.7" r="7.4" fill="#118dff"/>
<circle cx="1129.1" cy="470.8" r="7.4" fill="#118dff"/>
<circle cx="1161.0" cy="471.1" r="7.4" fill="#118dff"/>
<circle cx="1192.9" cy="474.7" r="7.4" fill="#118dff"/>
<circle cx="1224.7" cy="480.0" r="7.4" fill="#118dff"/>
<circle cx="1256.6" cy="427.7" r="7.4" fill="#118dff"/>
<circle cx="1288.5" cy="444.2" r="7.4" fill="#118dff"/>
<circle cx="1320.4" cy="411.7" r="7.4" fill="#118dff"/>
<circle cx="1352.3" cy="471.0" r="7.4" fill="#118dff"/>
<circle cx="1384.2" cy="468.9" r="7.4" fill="#118dff"/>
<circle cx="1416.1" cy="467.8" r="7.4" fill="#118dff"/>
<circle cx="1447.9" cy="466.9" r="7.4" fill="#118dff"/>
<circle cx="1479.8" cy="473.2" r="7.4" fill="#118dff"/>
<circle cx="1511.7" cy="451.7" r="7.4" fill="#118dff"/>
<circle cx="1543.6" cy="427.4" r="7.4" fill="#118dff"/>
<circle cx="1575.5" cy="462.7" r="7.4" fill="#118dff"/>
<circle cx="1607.4" cy="463.8" r="7.4" fill="#118dff"/>
<circle cx="1639.2" cy="464.2" r="7.4" fill="#118dff"/>
<circle cx="1671.1" cy="465.3" r="7.4" fill="#118dff"/>
<circle cx="1703.0" cy="465.8" r="7.4" fill="#118dff"/>
<circle cx="1734.9" cy="436.4" r="7.4" fill="#118dff"/>
<circle cx="1766.8" cy="406.2" r="7.4" fill="#118dff"/>
<circle cx="1798.7" cy="466.3" r="7.4" fill="#118dff"/>
<circle cx="1830.6" cy="469.7" r="7.4" fill="#118dff"/>
<circle cx="1862.4" cy="464.2" r="7.4" fill="#118dff"/>
<text x="681.7" y="522.5" transform="rotate(-31 681.7 522.5)" font-family="Liberation Sans" font-size="13" fill="#4a4a4a" text-anchor="end">13/04</text>
<text x="713.6" y="522.5" transform="rotate(-31 713.6 522.5)" font-family="Liberation Sans" font-size="13" fill="#4a4a4a" text-anchor="end">14/04</text>
<text x="745.5" y="522.5" transform="rotate(-31 745.5 522.5)" font-family="Liberation Sans" font-size="13" fill="#4a4a4a" text-anchor="end">15/04</text>
<text x="777.4" y="522.5" transform="rotate(-31 777.4 522.5)" font-family="Liberation Sans" font-size="13" fill="#4a4a4a" text-anchor="end">16/04</text>
<text x="809.2" y="522.5" transform="rotate(-31 809.2 522.5)" font-family="Liberation Sans" font-size="13" fill="#4a4a4a" text-anchor="end">17/04</text>
<text x="841.1" y="522.5" transform="rotate(-31 841.1 522.5)" font-family="Liberation Sans" font-size="13" fill="#4a4a4a" text-anchor="end">18/04</text>
<text x="873.0" y="522.5" transform="rotate(-31 873.0 522.5)" font-family="Liberation Sans" font-size="13" fill="#4a4a4a" text-anchor="end">19/04</text>
<text x="904.9" y="522.5" transform="rotate(-31 904.9 522.5)" font-family="Liberation Sans" font-size="13" fill="#4a4a4a" text-anchor="end">20/04</text>
<text x="936.8" y="522.5" transform="rotate(-31 936.8 522.5)" font-family="Liberation Sans" font-size="13" fill="#4a4a4a" text-anchor="end">21/04</text>
<text x="968.7" y="522.5" transform="rotate(-31 968.7 522.5)" font-family="Liberation Sans" font-size="13" fill="#4a4a4a" text-anchor="end">22/04</text>
<text x="1000.6" y="522.5" transform="rotate(-31 1000.6 522.5)" font-family="Liberation Sans" font-size="13" fill="#4a4a4a" text-anchor="end">23/04</text>
<text x="1032.4" y="522.5" transform="rotate(-31 1032.4 522.5)" font-family="Liberation Sans" font-size="13" fill="#4a4a4a" text-anchor="end">24/04</text>
<text x="1064.3" y="522.5" transform="rotate(-31 1064.3 522.5)" font-family="Liberation Sans" font-size="13" fill="#4a4a4a" text-anchor="end">25/04</text>
<text x="1096.2" y="522.5" transform="rotate(-31 1096.2 522.5)" font-family="Liberation Sans" font-size="13" fill="#4a4a4a" text-anchor="end">26/04</text>
<text x="1128.1" y="522.5" transform="rotate(-31 1128.1 522.5)" font-family="Liberation Sans" font-size="13" fill="#4a4a4a" text-anchor="end">27/04</text>
<text x="1160.0" y="522.5" transform="rotate(-31 1160.0 522.5)" font-family="Liberation Sans" font-size="13" fill="#4a4a4a" text-anchor="end">28/04</text>
<text x="1191.9" y="522.5" transform="rotate(-31 1191.9 522.5)" font-family="Liberation Sans" font-size="13" fill="#4a4a4a" text-anchor="end">29/04</text>
<text x="1223.7" y="522.5" transform="rotate(-31 1223.7 522.5)" font-family="Liberation Sans" font-size="13" fill="#4a4a4a" text-anchor="end">30/04</text>
<text x="1255.6" y="522.5" transform="rotate(-31 1255.6 522.5)" font-family="Liberation Sans" font-size="13" fill="#4a4a4a" text-anchor="end">01/05</text>
<text x="1287.5" y="522.5" transform="rotate(-31 1287.5 522.5)" font-family="Liberation Sans" font-size="13" fill="#4a4a4a" text-anchor="end">02/05</text>
<text x="1319.4" y="522.5" transform="rotate(-31 1319.4 522.5)" font-family="Liberation Sans" font-size="13" fill="#4a4a4a" text-anchor="end">03/05</text>
<text x="1351.3" y="522.5" transform="rotate(-31 1351.3 522.5)" font-family="Liberation Sans" font-size="13" fill="#4a4a4a" text-anchor="end">04/05</text>
<text x="1383.2" y="522.5" transform="rotate(-31 1383.2 522.5)" font-family="Liberation Sans" font-size="13" fill="#4a4a4a" text-anchor="end">05/05</text>
<text x="1415.1" y="522.5" transform="rotate(-31 1415.1 522.5)" font-family="Liberation Sans" font-size="13" fill="#4a4a4a" text-anchor="end">06/05</text>
<text x="1446.9" y="522.5" transform="rotate(-31 1446.9 522.5)" font-family="Liberation Sans" font-size="13" fill="#4a4a4a" text-anchor="end">07/05</text>
<text x="1478.8" y="522.5" transform="rotate(-31 1478.8 522.5)" font-family="Liberation Sans" font-size="13" fill="#4a4a4a" text-anchor="end">08/05</text>
<text x="1510.7" y="522.5" transform="rotate(-31 1510.7 522.5)" font-family="Liberation Sans" font-size="13" fill="#4a4a4a" text-anchor="end">09/05</text>
<text x="1542.6" y="522.5" transform="rotate(-31 1542.6 522.5)" font-family="Liberation Sans" font-size="13" fill="#4a4a4a" text-anchor="end">10/05</text>
<text x="1574.5" y="522.5" transform="rotate(-31 1574.5 522.5)" font-family="Liberation Sans" font-size="13" fill="#4a4a4a" text-anchor="end">11/05</text>
<text x="1606.4" y="522.5" transform="rotate(-31 1606.4 522.5)" font-family="Liberation Sans" font-size="13" fill="#4a4a4a" text-anchor="end">12/05</text>
<text x="1638.2" y="522.5" transform="rotate(-31 1638.2 522.5)" font-family="Liberation Sans" font-size="13" fill="#4a4a4a" text-anchor="end">13/05</text>
<text x="1670.1" y="522.5" transform="rotate(-31 1670.1 522.5)" font-family="Liberation Sans" font-size="13" fill="#4a4a4a" text-anchor="end">14/05</text>
<text x="1702.0" y="522.5" transform="rotate(-31 1702.0 522.5)" font-family="Liberation Sans" font-size="13" fill="#4a4a4a" text-anchor="end">15/05</text>
<text x="1733.9" y="522.5" transform="rotate(-31 1733.9 522.5)" font-family="Liberation Sans" font-size="13" fill="#4a4a4a" text-anchor="end">16/05</text>
<text x="1765.8" y="522.5" transform="rotate(-31 1765.8 522.5)" font-family="Liberation Sans" font-size="13" fill="#4a4a4a" text-anchor="end">17/05</text>
<text x="1797.7" y="522.5" transform="rotate(-31 1797.7 522.5)" font-family="Liberation Sans" font-size="13" fill="#4a4a4a" text-anchor="end">18/05</text>
<text x="1829.6" y="522.5" transform="rotate(-31 1829.6 522.5)" font-family="Liberation Sans" font-size="13" fill="#4a4a4a" text-anchor="end">19/05</text>
<text x="1861.4" y="522.5" transform="rotate(-31 1861.4 522.5)" font-family="Liberation Sans" font-size="13" fill="#4a4a4a" text-anchor="end">20/05</text>
</svg>
<div style="position:absolute;left:607.5px;top:573.5px;width:1275px;height:300px;background:#fff;border-radius:7px 7px 0 0"></div>
<div style="position:absolute;left:607.5px;top:573.5px;width:1273px;height:5.5px;background:#0f4a80;border-radius:7px 7px 0 0"></div>
<div style="position:absolute;left:607.5px;top:578.5px;width:1275px;height:8px;background:#fff;border-radius:5px 5px 0 0"></div>
<div style="position:absolute;left:613.5px;top:583px;font:700 30.2px/36px 'Liberation Sans', sans-serif;color:#0f4a80;white-space:nowrap;transform:scaleX(0.9415);transform-origin:0 0">Índice de Isolamento dos Municípios (%)</div>

<div style="position:absolute;left:607px;top:620px;width:1257px;height:236px;overflow:hidden">
<div style="position:absolute;left:51.6px;top:27px;font:400 18.7px/20px 'Liberation Sans', sans-serif;color:#333;letter-spacing:-0.85px;white-space:nowrap">MUNICÍPIO</div>
<svg style="position:absolute;left:0;top:0" width="40" height="70"><polygon points="14.6,56.8 21.6,50.4 28.6,56.8" fill="#333"/></svg>
<div style="position:absolute;left:193.3px;top:27px;width:80px;text-align:center;font:400 18.5px/20px 'Liberation Sans', sans-serif;color:#333;letter-spacing:0.25px;white-space:nowrap">13/04</div>
<div style="position:absolute;left:173.0px;top:102.1px;width:100px;text-align:right;font:400 19.2px/20px 'Liberation Sans', sans-serif;color:#d1b129;-webkit-text-stroke:0.45px #d1b129;letter-spacing:-0.3px;white-space:nowrap">53,30</div>
<div style="position:absolute;left:173.0px;top:178.6px;width:100px;text-align:right;font:400 19.2px/20px 'Liberation Sans', sans-serif;color:#a8a926;-webkit-text-stroke:0.45px #a8a926;letter-spacing:-0.3px;white-space:nowrap">60,84</div>
<div style="position:absolute;left:287.0px;top:27px;width:80px;text-align:center;font:400 18.5px/20px 'Liberation Sans', sans-serif;color:#333;letter-spacing:0.25px;white-space:nowrap">14/04</div>
<div style="position:absolute;left:265.0px;top:102.1px;width:100px;text-align:right;font:400 19.2px/20px 'Liberation Sans', sans-serif;color:#d1b129;-webkit-text-stroke:0.45px #d1b129;letter-spacing:-0.3px;white-space:nowrap">53,24</div>
<div style="position:absolute;left:265.0px;top:178.6px;width:100px;text-align:right;font:400 19.2px/20px 'Liberation Sans', sans-serif;color:#a6a926;-webkit-text-stroke:0.45px #a6a926;letter-spacing:-0.3px;white-space:nowrap">61,11</div>
<div style="position:absolute;left:380.0px;top:27px;width:80px;text-align:center;font:400 18.5px/20px 'Liberation Sans', sans-serif;color:#333;letter-spacing:0.25px;white-space:nowrap">15/04</div>
<div style="position:absolute;left:359.0px;top:102.1px;width:100px;text-align:right;font:400 19.2px/20px 'Liberation Sans', sans-serif;color:#d0b129;-webkit-text-stroke:0.45px #d0b129;letter-spacing:-0.3px;white-space:nowrap">53,49</div>
<div style="position:absolute;left:359.0px;top:178.6px;width:100px;text-align:right;font:400 19.2px/20px 'Liberation Sans', sans-serif;color:#aaaa25;-webkit-text-stroke:0.45px #aaaa25;letter-spacing:-0.3px;white-space:nowrap">60,61</div>
<div style="position:absolute;left:474.5px;top:27px;width:80px;text-align:center;font:400 18.5px/20px 'Liberation Sans', sans-serif;color:#333;letter-spacing:0.25px;white-space:nowrap">16/04</div>
<div style="position:absolute;left:454.0px;top:102.1px;width:100px;text-align:right;font:400 19.2px/20px 'Liberation Sans', sans-serif;color:#d4b129;-webkit-text-stroke:0.45px #d4b129;letter-spacing:-0.3px;white-space:nowrap">51,50</div>
<div style="position:absolute;left:454.0px;top:178.6px;width:100px;text-align:right;font:400 19.2px/20px 'Liberation Sans', sans-serif;color:#a7a926;-webkit-text-stroke:0.45px #a7a926;letter-spacing:-0.3px;white-space:nowrap">60,99</div>
<div style="position:absolute;left:568.5px;top:27px;width:80px;text-align:center;font:400 18.5px/20px 'Liberation Sans', sans-serif;color:#333;letter-spacing:0.25px;white-space:nowrap">17/04</div>
<div style="position:absolute;left:547.0px;top:102.1px;width:100px;text-align:right;font:400 19.2px/20px 'Liberation Sans', sans-serif;color:#d4b129;-webkit-text-stroke:0.45px #d4b129;letter-spacing:-0.3px;white-space:nowrap">51,34</div>
<div style="position:absolute;left:547.0px;top:178.6px;width:100px;text-align:right;font:400 19.2px/20px 'Liberation Sans', sans-serif;color:#abaa25;-webkit-text-stroke:0.45px #abaa25;letter-spacing:-0.3px;white-space:nowrap">60,47</div>
<div style="position:absolute;left:661.5px;top:27px;width:80px;text-align:center;font:400 18.5px/20px 'Liberation Sans', sans-serif;color:#333;letter-spacing:0.25px;white-space:nowrap">18/04</div>
<div style="position:absolute;left:640.0px;top:102.1px;width:100px;text-align:right;font:400 19.2px/20px 'Liberation Sans', sans-serif;color:#ccb028;-webkit-text-stroke:0.45px #ccb028;letter-spacing:-0.3px;white-space:nowrap">55,38</div>
<div style="position:absolute;left:640.0px;top:178.6px;width:100px;text-align:right;font:400 19.2px/20px 'Liberation Sans', sans-serif;color:#9aa829;-webkit-text-stroke:0.45px #9aa829;letter-spacing:-0.3px;white-space:nowrap">62,69</div>
<div style="position:absolute;left:754.5px;top:27px;width:80px;text-align:center;font:400 18.5px/20px 'Liberation Sans', sans-serif;color:#333;letter-spacing:0.25px;white-space:nowrap">19/04</div>
<div style="position:absolute;left:733.0px;top:102.1px;width:100px;text-align:right;font:400 19.2px/20px 'Liberation Sans', sans-serif;color:#b1ab24;-webkit-text-stroke:0.45px #b1ab24;letter-spacing:-0.3px;white-space:nowrap">59,55</div>
<div style="position:absolute;left:733.0px;top:178.6px;width:100px;text-align:right;font:400 19.2px/20px 'Liberation Sans', sans-serif;color:#7ba030;-webkit-text-stroke:0.45px #7ba030;letter-spacing:-0.3px;white-space:nowrap">66,86</div>
<div style="position:absolute;left:847.5px;top:27px;width:80px;text-align:center;font:400 18.5px/20px 'Liberation Sans', sans-serif;color:#333;letter-spacing:0.25px;white-space:nowrap">20/04</div>
<div style="position:absolute;left:826.0px;top:102.1px;width:100px;text-align:right;font:400 19.2px/20px 'Liberation Sans', sans-serif;color:#cfb028;-webkit-text-stroke:0.45px #cfb028;letter-spacing:-0.3px;white-space:nowrap">54,67</div>
<div style="position:absolute;left:826.0px;top:178.6px;width:100px;text-align:right;font:400 19.2px/20px 'Liberation Sans', sans-serif;color:#a7a926;-webkit-text-stroke:0.45px #a7a926;letter-spacing:-0.3px;white-space:nowrap">60,89</div>
<div style="position:absolute;left:940.5px;top:27px;width:80px;text-align:center;font:400 18.5px/20px 'Liberation Sans', sans-serif;color:#333;letter-spacing:0.25px;white-space:nowrap">21/04</div>
<div style="position:absolute;left:919.0px;top:102.1px;width:100px;text-align:right;font:400 19.2px/20px 'Liberation Sans', sans-serif;color:#b9ac25;-webkit-text-stroke:0.45px #b9ac25;letter-spacing:-0.3px;white-space:nowrap">58,27</div>
<div style="position:absolute;left:919.0px;top:178.6px;width:100px;text-align:right;font:400 19.2px/20px 'Liberation Sans', sans-serif;color:#7da12f;-webkit-text-stroke:0.45px #7da12f;letter-spacing:-0.3px;white-space:nowrap">66,62</div>
<div style="position:absolute;left:1033.0px;top:27px;width:80px;text-align:center;font:400 18.5px/20px 'Liberation Sans', sans-serif;color:#333;letter-spacing:0.25px;white-space:nowrap">22/04</div>
<div style="position:absolute;left:1011.0px;top:102.1px;width:100px;text-align:right;font:400 19.2px/20px 'Liberation Sans', sans-serif;color:#d4b22a;-webkit-text-stroke:0.45px #d4b22a;letter-spacing:-0.3px;white-space:nowrap">51,10</div>
<div style="position:absolute;left:1011.0px;top:178.6px;width:100px;text-align:right;font:400 19.2px/20px 'Liberation Sans', sans-serif;color:#afaa24;-webkit-text-stroke:0.45px #afaa24;letter-spacing:-0.3px;white-space:nowrap">59,82</div>
<div style="position:absolute;left:1126.0px;top:27px;width:80px;text-align:center;font:400 18.5px/20px 'Liberation Sans', sans-serif;color:#333;letter-spacing:0.25px;white-space:nowrap">23/04</div>
<div style="position:absolute;left:1105.0px;top:102.1px;width:100px;text-align:right;font:400 19.2px/20px 'Liberation Sans', sans-serif;color:#d4b22a;-webkit-text-stroke:0.45px #d4b22a;letter-spacing:-0.3px;white-space:nowrap">51,13</div>
<div style="position:absolute;left:1105.0px;top:178.6px;width:100px;text-align:right;font:400 19.2px/20px 'Liberation Sans', sans-serif;color:#b7ac25;-webkit-text-stroke:0.45px #b7ac25;letter-spacing:-0.3px;white-space:nowrap">58,67</div>
<div style="position:absolute;left:1219.5px;top:27px;width:80px;text-align:center;font:400 18.5px/20px 'Liberation Sans', sans-serif;color:#333;letter-spacing:0.25px;white-space:nowrap">24/04</div>
<div style="position:absolute;left:1198.0px;top:102.1px;width:100px;text-align:right;font:400 19.2px/20px 'Liberation Sans', sans-serif;color:#cfb028;-webkit-text-stroke:0.45px #cfb028;letter-spacing:-0.3px;white-space:nowrap">54,10</div>
<div style="position:absolute;left:1198.0px;top:178.6px;width:100px;text-align:right;font:400 19.2px/20px 'Liberation Sans', sans-serif;color:#d6b22a;-webkit-text-stroke:0.45px #d6b22a;letter-spacing:-0.3px;white-space:nowrap">46,20</div>
<div style="position:absolute;left:281.0px;top:84px;width:1px;height:152px;background:#f8f8f8"></div>
<div style="position:absolute;left:373.0px;top:84px;width:1px;height:152px;background:#f8f8f8"></div>
<div style="position:absolute;left:467.0px;top:84px;width:1px;height:152px;background:#f8f8f8"></div>
<div style="position:absolute;left:562.0px;top:84px;width:1px;height:152px;background:#f8f8f8"></div>
<div style="position:absolute;left:655.0px;top:84px;width:1px;height:152px;background:#f8f8f8"></div>
<div style="position:absolute;left:748.0px;top:84px;width:1px;height:152px;background:#f8f8f8"></div>
<div style="position:absolute;left:841.0px;top:84px;width:1px;height:152px;background:#f8f8f8"></div>
<div style="position:absolute;left:934.0px;top:84px;width:1px;height:152px;background:#f8f8f8"></div>
<div style="position:absolute;left:1027.0px;top:84px;width:1px;height:152px;background:#f8f8f8"></div>
<div style="position:absolute;left:1119.0px;top:84px;width:1px;height:152px;background:#f8f8f8"></div>
<div style="position:absolute;left:1213.0px;top:84px;width:1px;height:152px;background:#f8f8f8"></div>
<div style="position:absolute;left:14px;top:106px;font:400 16px/20px 'Liberation Sans', sans-serif;color:#5e5e5e;letter-spacing:0.55px;white-space:nowrap">AFONSO CLÁUDIO</div>
<div style="position:absolute;left:14.5px;top:182.5px;font:400 16px/20px 'Liberation Sans', sans-serif;color:#5e5e5e;letter-spacing:0.4px;white-space:nowrap">ÁGUA DOCE DO ...</div>
<div style="position:absolute;left:8px;top:146px;width:167px;height:10.2px;background:#e6e6e6"></div>
<div style="position:absolute;left:186px;top:146px;width:1080px;height:10.2px;background:#e6e6e6"></div>
<div style="position:absolute;left:8px;top:222.2px;width:167px;height:10.2px;background:#e6e6e6"></div>
<div style="position:absolute;left:186px;top:222.2px;width:1080px;height:10.2px;background:#e6e6e6"></div>
</div>
<div style="position:absolute;left:1864px;top:625px;width:12px;height:231px;background:#f0f0f0"></div>
<div style="position:absolute;left:1864px;top:661px;width:12px;height:34.5px;background:#c8c8c8"></div>
<svg style="position:absolute;left:1864px;top:638px" width="12" height="10"><polyline points="2.3,7.5 6,3 9.7,7.5" fill="none" stroke="#444" stroke-width="1.3"/></svg>

<div style="position:absolute;left:0;top:856px;width:1914px;height:19px;background:#fff"></div>

</body></html>
